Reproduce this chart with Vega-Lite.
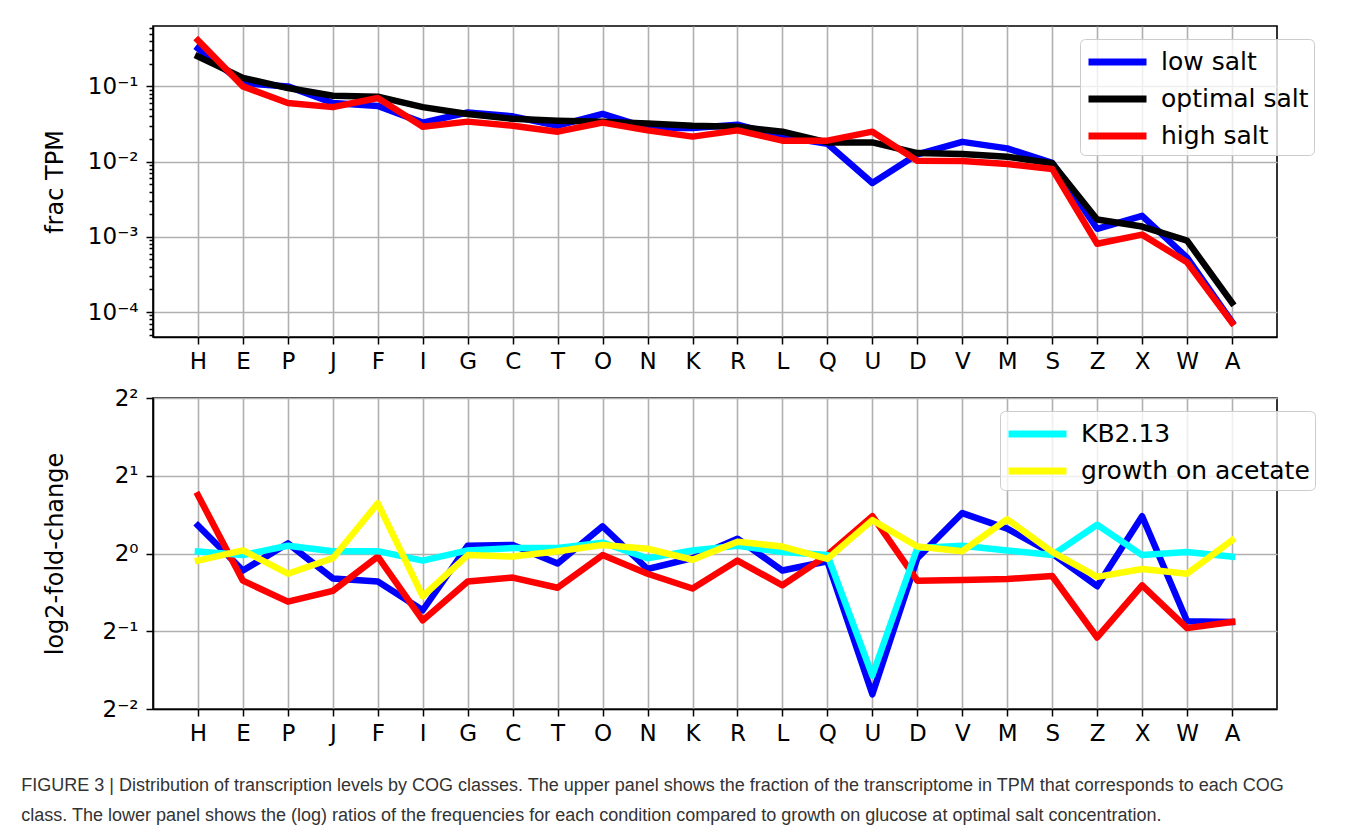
{
  "$schema": "https://vega.github.io/schema/vega-lite/v6.json",
  "background": "white",
  "padding": {"left": 21, "top": 25, "right": 0, "bottom": 0},
  "config": {
    "font": "DejaVu Sans",
    "view": {"stroke": "black", "strokeWidth": 1.6},
    "axis": {
      "domainColor": "black", "domainWidth": 1.6,
      "tickColor": "black", "tickWidth": 1.5, "tickSize": 7,
      "gridColor": "#b0b0b0", "gridWidth": 1.6,
      "labelFont": "DejaVu Sans", "labelFontSize": 23, "labelColor": "black",
      "titleFont": "DejaVu Sans", "titleFontSize": 24, "titleFontWeight": "normal", "titleColor": "black",
      "labelFlush": false
    },
    "legend": {
      "labelFont": "DejaVu Sans", "labelFontSize": 25, "labelColor": "black", "labelLimit": 500,
      "symbolType": "M-1,0H3", "symbolSize": 841, "symbolStrokeWidth": 7,
      "fillColor": "rgba(255,255,255,0.8)", "strokeColor": "#cccccc", "cornerRadius": 5,
      "padding": 5, "rowPadding": 5, "labelOffset": 40
    }
  },
  "title": {
    "text": [
      "FIGURE 3 | Distribution of transcription levels by COG classes. The upper panel shows the fraction of the transcriptome in TPM that corresponds to each COG",
      "class. The lower panel shows the (log) ratios of the frequencies for each condition compared to growth on glucose at optimal salt concentration."
    ],
    "orient": "bottom", "anchor": "start", "frame": "bounds",
    "font": "Liberation Sans", "fontSize": 18, "fontWeight": "normal", "color": "#333333",
    "lineHeight": 30, "offset": 31, "dx": -21
  },
  "datasets": {
    "upper": [
      {"cog": "H", "series": "low salt", "value": 0.32},
      {"cog": "E", "series": "low salt", "value": 0.11},
      {"cog": "P", "series": "low salt", "value": 0.1},
      {"cog": "J", "series": "low salt", "value": 0.06},
      {"cog": "F", "series": "low salt", "value": 0.055},
      {"cog": "I", "series": "low salt", "value": 0.033},
      {"cog": "G", "series": "low salt", "value": 0.045},
      {"cog": "C", "series": "low salt", "value": 0.04},
      {"cog": "T", "series": "low salt", "value": 0.03},
      {"cog": "O", "series": "low salt", "value": 0.043},
      {"cog": "N", "series": "low salt", "value": 0.028},
      {"cog": "K", "series": "low salt", "value": 0.028},
      {"cog": "R", "series": "low salt", "value": 0.031},
      {"cog": "L", "series": "low salt", "value": 0.0215},
      {"cog": "Q", "series": "low salt", "value": 0.0173},
      {"cog": "U", "series": "low salt", "value": 0.0052},
      {"cog": "D", "series": "low salt", "value": 0.0125},
      {"cog": "V", "series": "low salt", "value": 0.0183},
      {"cog": "M", "series": "low salt", "value": 0.015},
      {"cog": "S", "series": "low salt", "value": 0.0096},
      {"cog": "Z", "series": "low salt", "value": 0.00128},
      {"cog": "X", "series": "low salt", "value": 0.0019},
      {"cog": "W", "series": "low salt", "value": 0.00053},
      {"cog": "A", "series": "low salt", "value": 0.000074},
      {"cog": "H", "series": "optimal salt", "value": 0.25},
      {"cog": "E", "series": "optimal salt", "value": 0.13},
      {"cog": "P", "series": "optimal salt", "value": 0.095},
      {"cog": "J", "series": "optimal salt", "value": 0.075},
      {"cog": "F", "series": "optimal salt", "value": 0.073},
      {"cog": "I", "series": "optimal salt", "value": 0.053},
      {"cog": "G", "series": "optimal salt", "value": 0.043},
      {"cog": "C", "series": "optimal salt", "value": 0.037},
      {"cog": "T", "series": "optimal salt", "value": 0.035},
      {"cog": "O", "series": "optimal salt", "value": 0.034},
      {"cog": "N", "series": "optimal salt", "value": 0.032},
      {"cog": "K", "series": "optimal salt", "value": 0.03},
      {"cog": "R", "series": "optimal salt", "value": 0.029},
      {"cog": "L", "series": "optimal salt", "value": 0.025},
      {"cog": "Q", "series": "optimal salt", "value": 0.018},
      {"cog": "U", "series": "optimal salt", "value": 0.018},
      {"cog": "D", "series": "optimal salt", "value": 0.013},
      {"cog": "V", "series": "optimal salt", "value": 0.0126},
      {"cog": "M", "series": "optimal salt", "value": 0.0116},
      {"cog": "S", "series": "optimal salt", "value": 0.0095},
      {"cog": "Z", "series": "optimal salt", "value": 0.0017},
      {"cog": "X", "series": "optimal salt", "value": 0.00137},
      {"cog": "W", "series": "optimal salt", "value": 0.00089},
      {"cog": "A", "series": "optimal salt", "value": 0.000133},
      {"cog": "H", "series": "high salt", "value": 0.41},
      {"cog": "E", "series": "high salt", "value": 0.1},
      {"cog": "P", "series": "high salt", "value": 0.06},
      {"cog": "J", "series": "high salt", "value": 0.053},
      {"cog": "F", "series": "high salt", "value": 0.07},
      {"cog": "I", "series": "high salt", "value": 0.029},
      {"cog": "G", "series": "high salt", "value": 0.034},
      {"cog": "C", "series": "high salt", "value": 0.03},
      {"cog": "T", "series": "high salt", "value": 0.025},
      {"cog": "O", "series": "high salt", "value": 0.033},
      {"cog": "N", "series": "high salt", "value": 0.026},
      {"cog": "K", "series": "high salt", "value": 0.0215},
      {"cog": "R", "series": "high salt", "value": 0.026},
      {"cog": "L", "series": "high salt", "value": 0.019},
      {"cog": "Q", "series": "high salt", "value": 0.019},
      {"cog": "U", "series": "high salt", "value": 0.025},
      {"cog": "D", "series": "high salt", "value": 0.0103},
      {"cog": "V", "series": "high salt", "value": 0.0102},
      {"cog": "M", "series": "high salt", "value": 0.0093},
      {"cog": "S", "series": "high salt", "value": 0.008},
      {"cog": "Z", "series": "high salt", "value": 0.00081},
      {"cog": "X", "series": "high salt", "value": 0.00107},
      {"cog": "W", "series": "high salt", "value": 0.00046},
      {"cog": "A", "series": "high salt", "value": 0.000072}
    ],
    "lower": [
      {"cog": "H", "series": "low salt", "value": 1.283},
      {"cog": "E", "series": "low salt", "value": 0.859},
      {"cog": "P", "series": "low salt", "value": 1.094},
      {"cog": "J", "series": "low salt", "value": 0.801},
      {"cog": "F", "series": "low salt", "value": 0.779},
      {"cog": "I", "series": "low salt", "value": 0.603},
      {"cog": "G", "series": "low salt", "value": 1.072},
      {"cog": "C", "series": "low salt", "value": 1.079},
      {"cog": "T", "series": "low salt", "value": 0.914},
      {"cog": "O", "series": "low salt", "value": 1.274},
      {"cog": "N", "series": "low salt", "value": 0.871},
      {"cog": "K", "series": "low salt", "value": 0.959},
      {"cog": "R", "series": "low salt", "value": 1.141},
      {"cog": "L", "series": "low salt", "value": 0.859},
      {"cog": "Q", "series": "low salt", "value": 0.933},
      {"cog": "U", "series": "low salt", "value": 0.285},
      {"cog": "D", "series": "low salt", "value": 0.959},
      {"cog": "V", "series": "low salt", "value": 1.434},
      {"cog": "M", "series": "low salt", "value": 1.248},
      {"cog": "S", "series": "low salt", "value": 1.0},
      {"cog": "Z", "series": "low salt", "value": 0.747},
      {"cog": "X", "series": "low salt", "value": 1.395},
      {"cog": "W", "series": "low salt", "value": 0.547},
      {"cog": "A", "series": "low salt", "value": 0.543},
      {"cog": "H", "series": "high salt", "value": 1.682},
      {"cog": "E", "series": "high salt", "value": 0.785},
      {"cog": "P", "series": "high salt", "value": 0.651},
      {"cog": "J", "series": "high salt", "value": 0.717},
      {"cog": "F", "series": "high salt", "value": 0.973},
      {"cog": "I", "series": "high salt", "value": 0.551},
      {"cog": "G", "series": "high salt", "value": 0.779},
      {"cog": "C", "series": "high salt", "value": 0.807},
      {"cog": "T", "series": "high salt", "value": 0.737},
      {"cog": "O", "series": "high salt", "value": 0.986},
      {"cog": "N", "series": "high salt", "value": 0.835},
      {"cog": "K", "series": "high salt", "value": 0.732},
      {"cog": "R", "series": "high salt", "value": 0.939},
      {"cog": "L", "series": "high salt", "value": 0.753},
      {"cog": "Q", "series": "high salt", "value": 0.986},
      {"cog": "U", "series": "high salt", "value": 1.395},
      {"cog": "D", "series": "high salt", "value": 0.785},
      {"cog": "V", "series": "high salt", "value": 0.79},
      {"cog": "M", "series": "high salt", "value": 0.796},
      {"cog": "S", "series": "high salt", "value": 0.818},
      {"cog": "Z", "series": "high salt", "value": 0.473},
      {"cog": "X", "series": "high salt", "value": 0.753},
      {"cog": "W", "series": "high salt", "value": 0.514},
      {"cog": "A", "series": "high salt", "value": 0.543},
      {"cog": "H", "series": "KB2.13", "value": 1.018},
      {"cog": "E", "series": "KB2.13", "value": 0.986},
      {"cog": "P", "series": "KB2.13", "value": 1.072},
      {"cog": "J", "series": "KB2.13", "value": 1.021},
      {"cog": "F", "series": "KB2.13", "value": 1.021},
      {"cog": "I", "series": "KB2.13", "value": 0.939},
      {"cog": "G", "series": "KB2.13", "value": 1.028},
      {"cog": "C", "series": "KB2.13", "value": 1.05},
      {"cog": "T", "series": "KB2.13", "value": 1.05},
      {"cog": "O", "series": "KB2.13", "value": 1.102},
      {"cog": "N", "series": "KB2.13", "value": 0.959},
      {"cog": "K", "series": "KB2.13", "value": 1.028},
      {"cog": "R", "series": "KB2.13", "value": 1.072},
      {"cog": "L", "series": "KB2.13", "value": 1.014},
      {"cog": "Q", "series": "KB2.13", "value": 0.986},
      {"cog": "U", "series": "KB2.13", "value": 0.337},
      {"cog": "D", "series": "KB2.13", "value": 1.05},
      {"cog": "V", "series": "KB2.13", "value": 1.072},
      {"cog": "M", "series": "KB2.13", "value": 1.028},
      {"cog": "S", "series": "KB2.13", "value": 0.986},
      {"cog": "Z", "series": "KB2.13", "value": 1.292},
      {"cog": "X", "series": "KB2.13", "value": 0.986},
      {"cog": "W", "series": "KB2.13", "value": 1.014},
      {"cog": "A", "series": "KB2.13", "value": 0.973},
      {"cog": "H", "series": "growth on acetate", "value": 0.939},
      {"cog": "E", "series": "growth on acetate", "value": 1.028},
      {"cog": "P", "series": "growth on acetate", "value": 0.835},
      {"cog": "J", "series": "growth on acetate", "value": 0.959},
      {"cog": "F", "series": "growth on acetate", "value": 1.564},
      {"cog": "I", "series": "growth on acetate", "value": 0.683},
      {"cog": "G", "series": "growth on acetate", "value": 0.986},
      {"cog": "C", "series": "growth on acetate", "value": 0.973},
      {"cog": "T", "series": "growth on acetate", "value": 1.021},
      {"cog": "O", "series": "growth on acetate", "value": 1.079},
      {"cog": "N", "series": "growth on acetate", "value": 1.043},
      {"cog": "K", "series": "growth on acetate", "value": 0.946},
      {"cog": "R", "series": "growth on acetate", "value": 1.11},
      {"cog": "L", "series": "growth on acetate", "value": 1.064},
      {"cog": "Q", "series": "growth on acetate", "value": 0.953},
      {"cog": "U", "series": "growth on acetate", "value": 1.347},
      {"cog": "D", "series": "growth on acetate", "value": 1.064},
      {"cog": "V", "series": "growth on acetate", "value": 1.021},
      {"cog": "M", "series": "growth on acetate", "value": 1.357},
      {"cog": "S", "series": "growth on acetate", "value": 1.014},
      {"cog": "Z", "series": "growth on acetate", "value": 0.812},
      {"cog": "X", "series": "growth on acetate", "value": 0.871},
      {"cog": "W", "series": "growth on acetate", "value": 0.835},
      {"cog": "A", "series": "growth on acetate", "value": 1.125}
    ]
  },
  "resolve": {"scale": {"color": "independent"}, "legend": {"color": "independent"}},
  "spacing": 12,
  "vconcat": [
    {
      "width": 1124, "height": 311,
      "data": {"name": "upper"},
      "mark": {"type": "line", "strokeWidth": 6.5, "strokeJoin": "round", "strokeCap": "square"},
      "encoding": {
        "x": {
          "field": "cog", "type": "nominal",
          "scale": {"type": "point", "padding": 1.15, "domain": ["H","E","P","J","F","I","G","C","T","O","N","K","R","L","Q","U","D","V","M","S","Z","X","W","A"]},
          "axis": {"title": null, "grid": true, "labelAngle": 0, "labelPadding": 6}
        },
        "y": {
          "field": "value", "type": "quantitative",
          "scale": {"type": "log", "domain": [0.0000466, 0.635]},
          "axis": {
            "title": "frac TPM", "titleX": -98, "titleBaseline": "middle", "titleAngle": -90,
            "values": [0.00005,0.00006,0.00007,0.00008,0.00009,0.0001,0.0002,0.0003,0.0004,0.0005,0.0006,0.0007,0.0008,0.0009,0.001,0.002,0.003,0.004,0.005,0.006,0.007,0.008,0.009,0.01,0.02,0.03,0.04,0.05,0.06,0.07,0.08,0.09,0.1,0.2,0.3,0.4,0.5,0.6],
            "labelExpr": "datum.value == 0.1 ? '10⁻¹' : datum.value == 0.01 ? '10⁻²' : datum.value == 0.001 ? '10⁻³' : datum.value == 0.0001 ? '10⁻⁴' : ''",
            "tickSize": {"condition": {"test": "datum.value == 0.1 || datum.value == 0.01 || datum.value == 0.001 || datum.value == 0.0001", "value": 7}, "value": 4},
            "gridOpacity": {"condition": {"test": "datum.value == 0.1 || datum.value == 0.01 || datum.value == 0.001 || datum.value == 0.0001", "value": 1}, "value": 0},
            "labelPadding": 8
          }
        },
        "color": {
          "field": "series", "type": "nominal",
          "scale": {"domain": ["low salt", "optimal salt", "high salt"], "range": ["#0000ff", "#000000", "#ff0000"]},
          "legend": {"title": null, "orient": "none", "legendX": 927, "legendY": 13}
        }
      }
    },
    {
      "width": 1124, "height": 311,
      "data": {"name": "lower"},
      "mark": {"type": "line", "strokeWidth": 6.5, "strokeJoin": "round", "strokeCap": "square"},
      "encoding": {
        "x": {
          "field": "cog", "type": "nominal",
          "scale": {"type": "point", "padding": 1.15, "domain": ["H","E","P","J","F","I","G","C","T","O","N","K","R","L","Q","U","D","V","M","S","Z","X","W","A"]},
          "axis": {"title": null, "grid": true, "labelAngle": 0, "labelPadding": 6}
        },
        "y": {
          "field": "value", "type": "quantitative",
          "scale": {"type": "log", "base": 2, "domain": [0.25, 4]},
          "axis": {
            "title": "log2-fold-change", "titleX": -98, "titleBaseline": "middle", "titleAngle": -90,
            "values": [0.25, 0.5, 1, 2, 4],
            "labelExpr": "datum.value == 0.25 ? '2⁻²' : datum.value == 0.5 ? '2⁻¹' : datum.value == 1 ? '2⁰' : datum.value == 2 ? '2¹' : '2²'",
            "labelPadding": 8
          }
        },
        "color": {
          "field": "series", "type": "nominal",
          "scale": {"domain": ["low salt", "high salt", "KB2.13", "growth on acetate"], "range": ["#0000ff", "#ff0000", "#00ffff", "#ffff00"]},
          "legend": {"title": null, "orient": "none", "legendX": 847, "legendY": 13, "values": ["KB2.13", "growth on acetate"]}
        }
      }
    }
  ]
}
